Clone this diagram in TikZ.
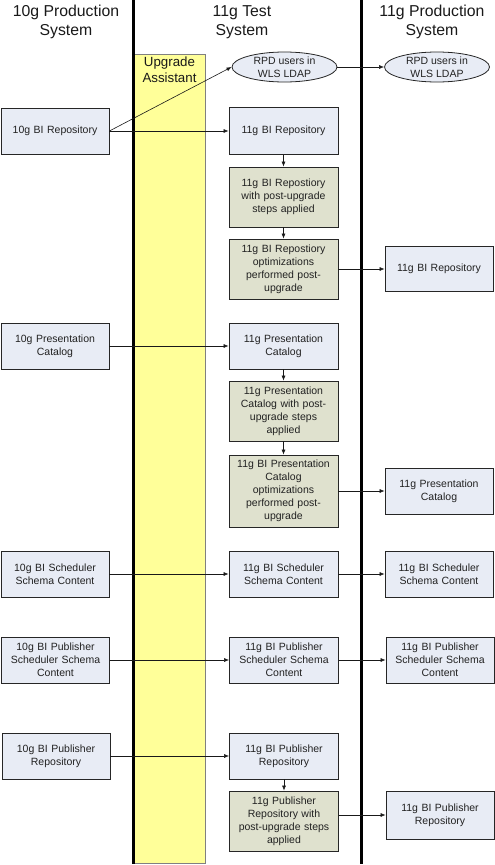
\documentclass[tikz,border=0pt]{standalone}
\usepackage{fontspec}
\setmainfont{Liberation Sans}
\usetikzlibrary{arrows.meta,shapes.geometric}
\definecolor{boxblue}{HTML}{E8ECF5}
\definecolor{boxgreen}{HTML}{DFE1CE}
\definecolor{uayellow}{HTML}{FFFF99}
\definecolor{txt}{HTML}{222222}
\begin{document}
\begin{tikzpicture}[x=1pt,y=-1pt,
  basebox/.style={draw=black!85, line width=0.8pt, align=center, inner xsep=3pt, inner ysep=2pt,
    text=txt, font=\fontsize{10.5}{13}\selectfont, text width=101pt, minimum width=108pt},
  bluebox/.style={basebox, fill=boxblue},
  greenbox/.style={basebox, fill=boxgreen},
  oval/.style={ellipse, draw=black!85, line width=0.8pt, fill=boxblue, align=center, inner sep=0pt,
    text=txt, font=\fontsize{10.5}{13}\selectfont, minimum width=105pt, minimum height=30pt},
  header/.style={align=center, font=\fontsize{15.8}{19}\selectfont, text=black!90},
  conn/.style={-{Latex[length=5pt,width=4pt]}, line width=0.6pt, black!90},
  divider/.style={line width=3pt, black}]
\useasboundingbox (0,0) rectangle (495,865);

% yellow band
\path[fill=uayellow, draw=black!50, line width=0.6pt] (134.5,54) rectangle (205.5,863);
% dividers
\draw[divider] (133,0) -- (133,864);
\draw[divider] (361,0) -- (361,864);

% headers
\node[header] (h1) at (66,22) {10g Production\\System};
\node[header] (h2) at (242,22) {11g Test\\System};
\node[header] (h3) at (432,22) {11g Production\\System};
\node[align=center, font=\fontsize{13.3}{16}\selectfont, text=black!90] (ua) at (169.5,70) {Upgrade\\Assistant};

% ellipses
\node[oval] (E1) at (284.5,67) {RPD users in\\WLS LDAP};
\node[oval] (E2) at (437,67) {RPD users in\\WLS LDAP};

% row 1
\node[bluebox, minimum height=46pt] (L1) at (55,131) {10g BI Repository};
\node[bluebox, minimum height=47pt, minimum width=109pt] (M1) at (283.5,131) {11g BI Repository};
\node[greenbox, minimum height=60pt, minimum width=109pt] (G1) at (283.5,197) {11g BI Repostiory\\with post-upgrade\\steps applied};
\node[greenbox, minimum height=60pt, minimum width=109pt] (G2) at (283.5,269) {11g BI Repostiory\\optimizations\\performed post-\\upgrade};
\node[bluebox, minimum height=45pt] (R1) at (439,269) {11g BI Repository};

% row 2
\node[bluebox, minimum height=46pt] (L2) at (55,346) {10g Presentation\\Catalog};
\node[bluebox, minimum height=46pt, minimum width=109pt] (M2) at (283.5,346) {11g Presentation\\Catalog};
\node[greenbox, minimum height=60pt, minimum width=109pt] (G3) at (283.5,411) {11g Presentation\\Catalog with post-\\upgrade steps\\applied};
\node[greenbox, minimum height=72pt, minimum width=109pt] (G4) at (283.5,491) {11g BI Presentation\\Catalog\\optimizations\\performed post-\\upgrade};
\node[bluebox, minimum height=46pt] (R2) at (439,491) {11g Presentation\\Catalog};

% row 3
\node[bluebox, minimum height=46pt] (L3) at (55,574) {10g BI Scheduler\\Schema Content};
\node[bluebox, minimum height=46pt, minimum width=109pt] (M3) at (283.5,574) {11g BI Scheduler\\Schema Content};
\node[bluebox, minimum height=46pt] (R3) at (439,574) {11g BI Scheduler\\Schema Content};

% row 4
\node[bluebox, minimum height=46pt] (L4) at (55.5,660) {10g BI Publisher\\Scheduler Schema\\Content};
\node[bluebox, minimum height=46pt, minimum width=109pt] (M4) at (284,660) {11g BI Publisher\\Scheduler Schema\\Content};
\node[bluebox, minimum height=46pt] (R4) at (440,660) {11g BI Publisher\\Scheduler Schema\\Content};

% row 5
\node[bluebox, minimum height=46pt] (L5) at (56,756) {10g BI Publisher\\Repository};
\node[bluebox, minimum height=46pt, minimum width=109pt] (M5) at (284,756) {11g BI Publisher\\Repository};
\node[greenbox, minimum height=60pt, minimum width=109pt] (G5) at (284,821) {11g Publisher\\Repository with\\post-upgrade steps\\applied};
\node[bluebox, minimum height=48pt] (R5) at (440,815) {11g BI Publisher\\Repository};

% connectors
\draw[conn] (L1.east) -- (E1.west);
\draw[conn] (L1.east) -- (M1.west);
\draw[conn] (E1.east) -- (E2.west);
\draw[conn] (M1.south) -- (G1.north);
\draw[conn] (G1.south) -- (G2.north);
\draw[conn] (G2.east) -- (R1.west);

\draw[conn] (L2.east) -- (M2.west);
\draw[conn] (M2.south) -- (G3.north);
\draw[conn] (G3.south) -- (G4.north);
\draw[conn] (G4.east) -- (R2.west);

\draw[conn] (L3.east) -- (M3.west);
\draw[conn] (M3.east) -- (R3.west);

\draw[conn] (L4.east) -- (M4.west);
\draw[conn] (M4.east) -- (R4.west);

\draw[conn] (L5.east) -- (M5.west);
\draw[conn] (M5.south) -- (G5.north);
\draw[conn] (R5.west -| G5.east) -- (R5.west);
\end{tikzpicture}
\end{document}
